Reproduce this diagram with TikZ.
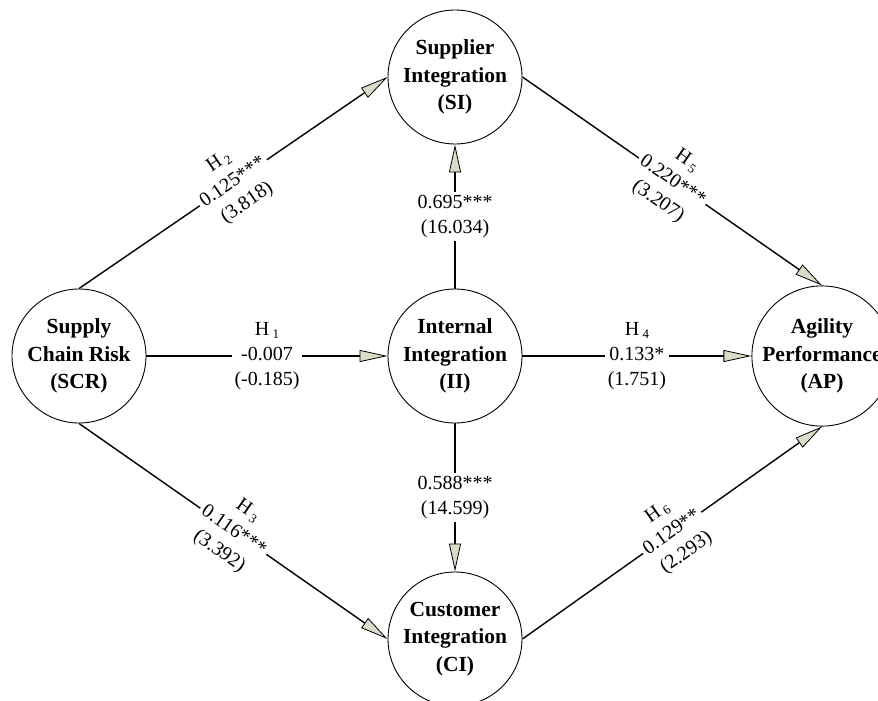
\documentclass[tikz,border=0pt]{standalone}
\usepackage{fontspec}
\setmainfont{Liberation Serif}
\usetikzlibrary{arrows.meta}
\definecolor{tipfill}{RGB}{216,221,201}
\newcommand\hsub[1]{\,{\fontsize{13}{13}\selectfont\raisebox{-3pt}{#1}}}
\begin{document}
\begin{tikzpicture}[x=1pt,y=-1pt,
  var/.style={circle, draw, line width=0.9pt, minimum size=134pt, inner sep=0pt, align=center,
    font=\fontsize{21.5}{27.5}\selectfont\bfseries},
  edge/.style={line width=1.4pt, -{Triangle[length=28pt,width=12pt,line width=0.8pt,fill=tipfill]}},
  lab/.style={fill=white, inner sep=3pt, align=center, font=\fontsize{20}{25}\selectfont},
]
\useasboundingbox (0,0) rectangle (878,701);
\clip (0,0) rectangle (878,701);
\fill[white] (0,0) rectangle (878,701);

\node[var] (SI) at (455,77) {Supplier\\Integration\\(SI)};
\node[var] (SCR) at (79,356) {Supply\\Chain Risk\\(SCR)};
\node[var] (II) at (455,356) {Internal\\Integration\\(II)};
\node[var] (AP) at (822,356) {Agility\\Performance\\(AP)};
\node[var] (CI) at (455,639) {Customer\\Integration\\(CI)};

\draw[edge] (SCR) -- node[lab]{H\hsub{1}\\-0.007\\(-0.185)} (II);
\draw[edge] (II) -- node[lab]{H\hsub{4}\\0.133*\\(1.751)} (AP);
\draw[edge] (II) -- node[lab]{0.695***\\(16.034)} (SI);
\draw[edge] (II) -- node[lab]{0.588***\\(14.599)} (CI);
\draw[edge] (SCR.north) -- node[lab,sloped]{H\hsub{2}\\0.125***\\(3.818)} (SI.west);
\draw[edge] (SI.east) -- node[lab,sloped]{H\hsub{5}\\0.220***\\(3.207)} (AP.north);
\draw[edge] (SCR.south) -- node[lab,sloped]{H\hsub{3}\\0.116***\\(3.392)} (CI.west);
\draw[edge] (CI.east) -- node[lab,sloped]{H\hsub{6}\\0.129**\\(2.293)} (AP.south);
\end{tikzpicture}
\end{document}
